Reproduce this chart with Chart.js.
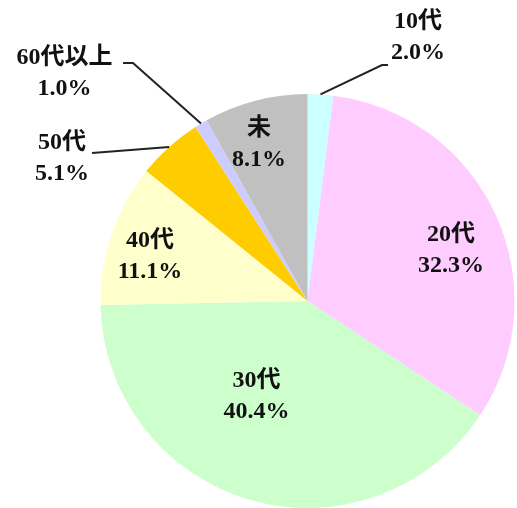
<!DOCTYPE html>
<html>
<head>
<meta charset="utf-8">
<script src="https://cdn.jsdelivr.net/npm/chart.js@4/dist/chart.umd.min.js"></script>
<style>
html,body{margin:0;padding:0;background:#fff;overflow:hidden;}
#wrap{width:517px;height:508px;position:relative;}
</style>
</head>
<body>
<div id="wrap"><canvas id="c" width="517" height="508"></canvas></div>
<script>
// ---- data ----
const categories = ["10代", "20代", "30代", "40代", "50代", "60代以上", "未"];
const shares = [2.0, 32.3, 40.4, 11.1, 5.1, 1.0, 8.1];
const valueLabels = ["2.0%", "32.3%", "40.4%", "11.1%", "5.1%", "1.0%", "8.1%"];
const sliceColors = ["#CCFFFF", "#FFCCFF", "#CCFFCC", "#FFFFCC", "#FFCC00", "#CCCCFF", "#C0C0C0"];

// label layout: offsets relative to pie centre, in units of radius
const labelLayout = [
  {tx: 0.534, ty: -1.275, leader: [[0.360, -1.140], [0.389, -1.140]]},
  {tx: 0.693, ty: -0.246},
  {tx: -0.246, ty: 0.461},
  {tx: -0.761, ty: -0.215},
  {tx: -1.186, ty: -0.691, leader: [[-1.041, -0.715]]},
  {tx: -1.174, ty: -1.101, leader: [[-0.843, -1.150], [-0.891, -1.150]]},
  {tx: -0.234, ty: -0.758}
];

const labelPlugin = {
  id: 'pieLabels',
  afterDatasetsDraw(chart) {
    const ctx = chart.ctx;
    const meta = chart.getDatasetMeta(0);
    ctx.save();
    meta.data.forEach((arc, i) => {
      const p = arc.getProps(['x', 'y', 'startAngle', 'endAngle', 'outerRadius'], true);
      const R = p.outerRadius;
      const L = labelLayout[i];
      if (L.leader) {
        const mid = (p.startAngle + p.endAngle) / 2;
        ctx.beginPath();
        ctx.moveTo(p.x + Math.cos(mid) * R, p.y + Math.sin(mid) * R);
        L.leader.forEach(pt => ctx.lineTo(p.x + pt[0] * R, p.y + pt[1] * R));
        ctx.strokeStyle = '#222';
        ctx.lineWidth = 2;
        ctx.stroke();
      }
      const cx = p.x + L.tx * R, cy = p.y + L.ty * R;
      ctx.fillStyle = '#111';
      ctx.font = 'bold 24px "Liberation Serif", "DejaVu Serif", "Noto Sans CJK JP", serif';
      ctx.textAlign = 'center';
      ctx.textBaseline = 'middle';
      ctx.fillText(categories[i], cx, cy - 15.5);
      ctx.fillText(valueLabels[i], cx, cy + 15.5);
    });
    ctx.restore();
  }
};

new Chart(document.getElementById('c'), {
  type: 'pie',
  data: {
    labels: categories,
    datasets: [{
      data: shares,
      backgroundColor: sliceColors,
      borderWidth: 0
    }]
  },
  options: {
    responsive: false,
    animation: false,
    layout: {padding: {left: 100, top: 94, right: 2, bottom: 0}},
    plugins: {legend: {display: false}, tooltip: {enabled: false}}
  },
  plugins: [labelPlugin]
});
</script>
</body>
</html>
